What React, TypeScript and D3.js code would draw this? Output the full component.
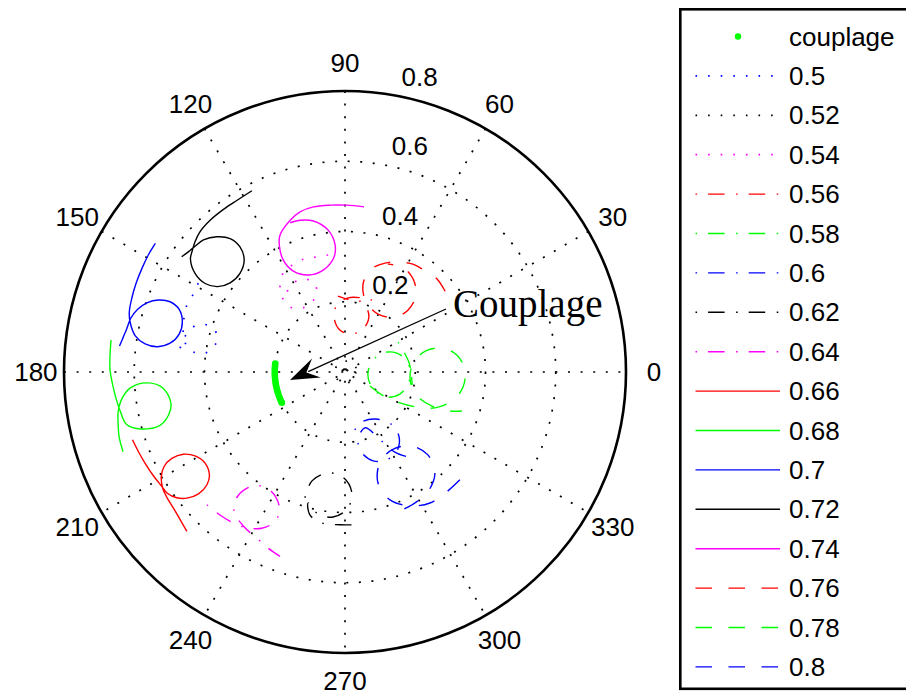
import React from "react";
import * as d3 from "d3";

const W = 906;
const H = 697;
const CX = 345;
const CY = 372;
const R = 281;
const RMAX = 0.8;

const ringTicks = [0.2, 0.4, 0.6, 0.8];
const angleTicks = [0, 30, 60, 90, 120, 150, 180, 210, 240, 270, 300, 330];
const spokeAngles = [30, 60, 90, 120, 150, 180];

// couplage: points on the polar plane (theta in degrees, radius)
const couplageTheta = [173, 175, 177, 179, 181, 183, 185, 187, 189, 191, 193, 195, 197, 199, 201, 203, 205, 206];
const couplageR = [0.2, 0.2, 0.2, 0.2, 0.2, 0.2, 0.2, 0.2, 0.2, 0.2, 0.2, 0.2, 0.2, 0.2, 0.2, 0.2, 0.2, 0.2];

// series traces as [real, imag] pairs
const s050 = [[-0.418,0.253],[-0.432,0.222],[-0.45,0.191],[-0.458,0.156],[-0.461,0.119],[-0.455,0.083],[-0.432,0.057],[-0.398,0.054],[-0.37,0.077],[-0.364,0.105],[-0.384,0.131],[-0.421,0.134],[-0.447,0.114],[-0.464,0.083],[-0.475,0.048]];
const s052 = [[0.031,0],[0.023,-0.023],[0.003,-0.031],[-0.02,-0.023],[-0.028,0],[-0.02,0.023],[0.003,0.031],[0.026,0.023],[0.034,0]];
const s054 = [[-0.048,0.333],[-0.085,0.327],[-0.119,0.321],[-0.151,0.304],[-0.176,0.282],[-0.185,0.248],[-0.179,0.213],[-0.156,0.185],[-0.122,0.182],[-0.094,0.199],[-0.08,0.23],[-0.091,0.256],[-0.119,0.265],[-0.148,0.253],[-0.165,0.228]];
const s056 = [[0.077,0.205],[0.048,0.211],[0.009,0.211],[-0.023,0.191],[-0.031,0.154],[-0.014,0.119],[0.02,0.108],[0.054,0.125],[0.068,0.162],[0.048,0.199],[0.014,0.205],[-0.02,0.216]];
const s058 = [[0.151,0.085],[0.168,0.057],[0.185,0.017],[0.182,-0.028],[0.156,-0.063],[0.117,-0.071],[0.08,-0.048],[0.065,-0.006],[0.083,0.037],[0.122,0.057],[0.162,0.046],[0.185,0.011],[0.191,-0.037]];
const s060 = [[0.028,-0.165],[0.048,-0.142],[0.088,-0.134],[0.131,-0.148],[0.154,-0.185],[0.148,-0.225],[0.119,-0.25],[0.08,-0.253],[0.048,-0.23],[0.037,-0.193],[0.057,-0.159],[0.1,-0.193],[0.142,-0.228],[0.179,-0.242]];
const s062 = [[-0.114,-0.358],[-0.094,-0.31],[-0.048,-0.287],[-0.003,-0.302],[0.02,-0.347],[0.006,-0.39],[-0.034,-0.413],[-0.077,-0.404],[-0.105,-0.373],[-0.1,-0.407],[-0.065,-0.43],[-0.014,-0.435],[0.028,-0.435]];
const s064 = [[-0.393,-0.378],[-0.356,-0.407],[-0.318,-0.43],[-0.286,-0.442],[-0.237,-0.445],[-0.197,-0.423],[-0.187,-0.383],[-0.216,-0.334],[-0.261,-0.324],[-0.305,-0.353],[-0.316,-0.397],[-0.286,-0.442],[-0.251,-0.473],[-0.218,-0.502],[-0.185,-0.525]];
const s066 = [[-0.605,-0.193],[-0.588,-0.227],[-0.569,-0.26],[-0.545,-0.296],[-0.523,-0.324],[-0.506,-0.345],[-0.479,-0.358],[-0.45,-0.359],[-0.417,-0.347],[-0.393,-0.321],[-0.386,-0.293],[-0.398,-0.26],[-0.427,-0.239],[-0.46,-0.234],[-0.493,-0.246],[-0.515,-0.269],[-0.523,-0.298],[-0.519,-0.331],[-0.506,-0.359],[-0.488,-0.388],[-0.469,-0.421],[-0.45,-0.454]];
const s068 = [[-0.666,0.091],[-0.669,0.048],[-0.669,0.006],[-0.66,-0.043],[-0.649,-0.085],[-0.64,-0.111],[-0.62,-0.151],[-0.563,-0.162],[-0.518,-0.145],[-0.495,-0.094],[-0.518,-0.046],[-0.563,-0.031],[-0.612,-0.046],[-0.637,-0.08],[-0.646,-0.114],[-0.646,-0.145],[-0.643,-0.185],[-0.632,-0.227]];
const s070 = [[-0.54,0.366],[-0.56,0.333],[-0.578,0.295],[-0.595,0.252],[-0.607,0.21],[-0.614,0.172],[-0.612,0.143],[-0.597,0.103],[-0.569,0.08],[-0.534,0.072],[-0.498,0.082],[-0.472,0.108],[-0.463,0.143],[-0.472,0.178],[-0.498,0.2],[-0.531,0.205],[-0.564,0.197],[-0.591,0.178],[-0.61,0.153],[-0.621,0.124],[-0.631,0.1],[-0.642,0.074]];
const s072 = [[-0.265,0.516],[-0.307,0.489],[-0.346,0.463],[-0.384,0.432],[-0.413,0.399],[-0.427,0.371],[-0.435,0.345],[-0.44,0.321],[-0.427,0.281],[-0.398,0.252],[-0.363,0.243],[-0.327,0.254],[-0.299,0.281],[-0.287,0.319],[-0.299,0.356],[-0.327,0.38],[-0.365,0.385],[-0.403,0.376],[-0.427,0.358],[-0.446,0.342],[-0.465,0.328]];
const s074 = [[0.054,0.47],[0.005,0.475],[-0.043,0.475],[-0.09,0.47],[-0.128,0.456],[-0.156,0.432],[-0.185,0.39],[-0.187,0.361],[-0.176,0.319],[-0.147,0.287],[-0.104,0.276],[-0.062,0.29],[-0.033,0.323],[-0.028,0.361],[-0.048,0.404],[-0.09,0.43],[-0.128,0.432],[-0.156,0.425]];
const s076 = [[0.285,0.23],[0.262,0.265],[0.23,0.287],[0.193,0.307],[0.156,0.313],[0.114,0.31],[0.071,0.29],[0.051,0.248],[0.06,0.199],[0.094,0.165],[0.139,0.156],[0.179,0.176],[0.202,0.219],[0.193,0.267],[0.162,0.299],[0.122,0.307]];
const s078 = [[0.071,-0.04],[0.114,-0.071],[0.156,-0.088],[0.205,-0.1],[0.256,-0.102],[0.304,-0.083],[0.336,-0.043],[0.341,0.006],[0.319,0.048],[0.276,0.068],[0.23,0.06],[0.196,0.028],[0.185,-0.017],[0.202,-0.065],[0.248,-0.097],[0.299,-0.111],[0.333,-0.111]];
const s080 = [[0.327,-0.307],[0.29,-0.341],[0.242,-0.373],[0.185,-0.381],[0.128,-0.364],[0.094,-0.316],[0.1,-0.256],[0.139,-0.219],[0.191,-0.211],[0.236,-0.236],[0.256,-0.287],[0.236,-0.341],[0.191,-0.378],[0.151,-0.398]];

const seriesNames = ["0.5", "0.52", "0.54", "0.56", "0.58", "0.6", "0.62", "0.64", "0.66", "0.68", "0.7", "0.72", "0.74", "0.76", "0.78", "0.8"];
const seriesData = [s050, s052, s054, s056, s058, s060, s062, s064, s066, s068, s070, s072, s074, s076, s078, s080];
const seriesColors = ["#0000ff", "#000000", "#ff00ff", "#ff0000", "#00ff00", "#0000ff", "#000000", "#ff00ff", "#ff0000", "#00ff00", "#0000ff", "#000000", "#ff00ff", "#ff0000", "#00ff00", "#0000ff"];
const seriesStyles = ["dot", "dot", "dot", "dashdot", "dashdot", "dashdot", "dashdot", "dashdot", "solid", "solid", "solid", "solid", "solid", "dash", "dash", "dash"];

const DASH: Record<string, string | undefined> = {
  dot: "1.6 11",
  dashdot: "1.6 11 16.5 11.5",
  dash: "16.5 16.5",
  solid: undefined,
};

const LEG_X = 679;
const LEG_Y0 = 36.5;
const LEG_STEP = 39.4;

export default function App() {
  const rScale = d3.scaleLinear().domain([0, RMAX]).range([0, R]);
  const deg = (a: number) => (a * Math.PI) / 180;
  const px = (theta: number, r: number) => [CX + rScale(r) * Math.cos(deg(theta)), CY - rScale(r) * Math.sin(deg(theta))];

  const line = d3
    .lineRadial<number[]>()
    .angle((d) => Math.PI / 2 - Math.atan2(d[1], d[0]))
    .radius((d) => rScale(Math.hypot(d[0], d[1])))
    .curve(d3.curveCatmullRom.alpha(0.5));

  const font = "'Liberation Sans', Arial, Helvetica, sans-serif";

  // annotation arrow
  const tip = [290, 380];
  const tail = [446, 309];
  const ux = tail[0] - tip[0];
  const uy = tail[1] - tip[1];
  const ul = Math.hypot(ux, uy);
  const u = [ux / ul, uy / ul];
  const n = [-u[1], u[0]];
  const L = 29;
  const HW = 10.5;
  const head = [
    tip,
    [tip[0] + u[0] * L + n[0] * HW, tip[1] + u[1] * L + n[1] * HW],
    [tip[0] + u[0] * 18, tip[1] + u[1] * 18],
    [tip[0] + u[0] * L - n[0] * HW, tip[1] + u[1] * L - n[1] * HW],
  ];

  const gridDash = "2 10.6";

  return (
    <svg width={W} height={H} style={{ position: "absolute", left: 0, top: 0, background: "#fff" }}>
      <rect x={0} y={0} width={W} height={H} fill="#fff" />
      {ringTicks.slice(0, 3).map((t) => (
        <circle key={t} cx={CX} cy={CY} r={rScale(t)} fill="none" stroke="#000" strokeWidth={1.7} strokeDasharray={gridDash} />
      ))}
      {spokeAngles.map((a) => {
        const p1 = px(a, RMAX);
        const p2 = px(a + 180, RMAX);
        return <line key={a} x1={p1[0]} y1={p1[1]} x2={p2[0]} y2={p2[1]} stroke="#000" strokeWidth={1.7} strokeDasharray={gridDash} />;
      })}
      <circle cx={CX} cy={CY} r={rScale(RMAX)} fill="none" stroke="#000" strokeWidth={2.6} />
      {angleTicks.map((a) => {
        const p = px(a, RMAX * 1.1);
        return (
          <text key={a} x={p[0]} y={p[1]} textAnchor="middle" dominantBaseline="central" fontFamily={font} fontSize={26}>
            {a}
          </text>
        );
      })}
      {ringTicks.map((t) => {
        const p = px(82, t + 0.01);
        return (
          <text key={t} x={p[0] + 17} y={p[1] - 4.5} fontFamily={font} fontSize={26}>
            {String(t)}
          </text>
        );
      })}
      <g transform={`translate(${CX},${CY})`}>
        {seriesData.map((d, i) => (
          <path
            key={i}
            d={line(d) || ""}
            fill="none"
            stroke={seriesColors[i]}
            strokeWidth={seriesStyles[i] === "dot" ? 1.7 : 1.4}
            strokeDasharray={DASH[seriesStyles[i]]}
          />
        ))}
      </g>
      {couplageTheta.map((t, i) => {
        const p = px(t, couplageR[i]);
        return <circle key={i} cx={p[0]} cy={p[1]} r={3.3} fill="#00ff00" />;
      })}
      <line x1={tail[0]} y1={tail[1]} x2={tip[0] + u[0] * 20} y2={tip[1] + u[1] * 20} stroke="#000" strokeWidth={1.3} />
      <polygon points={head.map((p) => p.join(",")).join(" ")} fill="#000" />
      <text x={453} y={317} fontFamily="'Liberation Serif', 'Times New Roman', serif" fontSize={39}>
        Couplage
      </text>
      <rect x={LEG_X + 1.3} y={9.3} width={W} height={679.5} fill="#fff" stroke="#000" strokeWidth={2.6} />
      <circle cx={738} cy={LEG_Y0} r={3.2} fill="#00ff00" />
      <text x={789} y={LEG_Y0} dy="0.35em" fontFamily={font} fontSize={26}>
        couplage
      </text>
      {seriesNames.map((name, i) => {
        const y = LEG_Y0 + (i + 1) * LEG_STEP;
        return (
          <g key={name}>
            <line x1={695.5} y1={y} x2={780} y2={y} stroke={seriesColors[i]} strokeWidth={seriesStyles[i] === "dot" ? 1.7 : 1.4} strokeDasharray={DASH[seriesStyles[i]]} />
            <text x={789} y={y} dy="0.35em" fontFamily={font} fontSize={26}>
              {name}
            </text>
          </g>
        );
      })}
    </svg>
  );
}
